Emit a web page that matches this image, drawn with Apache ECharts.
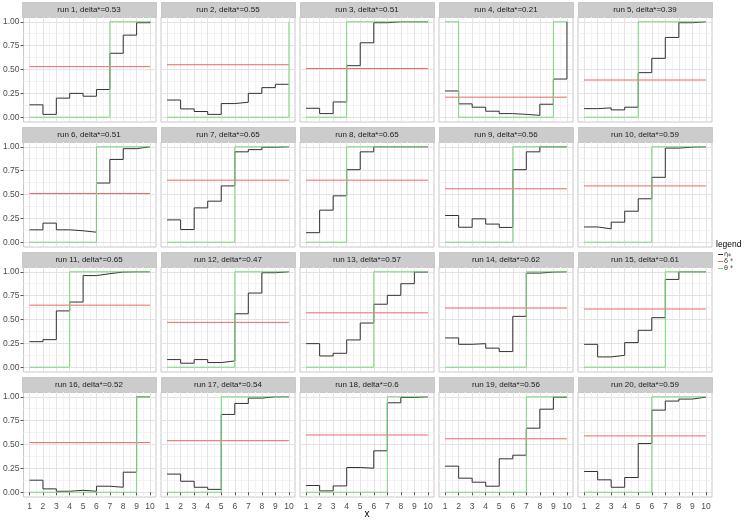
<!DOCTYPE html>
<html><head><meta charset="utf-8">
<script src="https://cdn.jsdelivr.net/npm/echarts@6/dist/echarts.min.js"></script>
<style>html,body{margin:0;padding:0;background:#fff}#c{width:750px;height:521px}</style>
</head><body><div id="c"></div>
<script>
// ---------------- data ----------------
const xValues = [1, 2, 3, 4, 5, 6, 7, 8, 9, 10];
const xTickLabels = ['1', '2', '3', '4', '5', '6', '7', '8', '9', '10'];
const yTickValues = [0, 0.25, 0.5, 0.75, 1];
const yTickLabels = ['0.00', '0.25', '0.50', '0.75', '1.00'];
const xMinorValues = [1.5, 2.5, 3.5, 4.5, 5.5, 6.5, 7.5, 8.5, 9.5];
const yMinorValues = [0.125, 0.375, 0.625, 0.875];
const runIds = [1, 2, 3, 4, 5, 6, 7, 8, 9, 10, 11, 12, 13, 14, 15, 16, 17, 18, 19, 20];
const deltaStar = [0.53, 0.55, 0.51, 0.21, 0.39, 0.51, 0.65, 0.65, 0.56, 0.59,
                   0.65, 0.47, 0.57, 0.62, 0.61, 0.52, 0.54, 0.6, 0.56, 0.59];
const eta = [
  [0.13, 0.03, 0.20, 0.25, 0.22, 0.29, 0.67, 0.86, 0.99, 1.00],
  [0.18, 0.087, 0.06, 0.03, 0.143, 0.157, 0.25, 0.31, 0.345, 0.35],
  [0.094, 0.038, 0.16, 0.54, 0.78, 0.99, 1.00, 1.00, 1.00, 1.00],
  [0.275, 0.14, 0.105, 0.063, 0.038, 0.03, 0.02, 0.136, 0.40, 1.00],
  [0.09, 0.098, 0.077, 0.105, 0.467, 0.617, 0.836, 0.99, 1.00, 1.00],
  [0.13, 0.20, 0.13, 0.12, 0.105, 0.62, 0.867, 0.98, 1.00, 1.00],
  [0.234, 0.133, 0.36, 0.43, 0.59, 0.947, 0.97, 0.995, 1.00, 1.00],
  [0.10, 0.336, 0.486, 0.76, 0.947, 1.00, 1.00, 1.00, 1.00, 1.00],
  [0.28, 0.157, 0.245, 0.19, 0.155, 0.76, 0.947, 1.00, 1.00, 1.00],
  [0.16, 0.14, 0.21, 0.325, 0.455, 0.68, 0.986, 0.996, 1.00, 1.00],
  [0.268, 0.289, 0.59, 0.683, 0.96, 0.98, 0.997, 1.00, 1.00, 1.00],
  [0.08, 0.042, 0.08, 0.049, 0.066, 0.56, 0.777, 0.99, 1.00, 1.00],
  [0.247, 0.118, 0.146, 0.286, 0.463, 0.66, 0.753, 0.875, 0.997, 1.00],
  [0.307, 0.24, 0.247, 0.20, 0.164, 0.533, 0.986, 0.997, 1.00, 1.00],
  [0.24, 0.108, 0.125, 0.258, 0.387, 0.519, 0.92, 1.00, 1.00, 1.00],
  [0.126, 0.035, 0.01, 0.02, 0.01, 0.063, 0.052, 0.21, 1.00, 1.00],
  [0.19, 0.115, 0.052, 0.03, 0.815, 0.93, 0.986, 1.00, 1.00, 1.00],
  [0.07, 0.014, 0.066, 0.259, 0.252, 0.434, 0.937, 0.993, 1.00, 1.00],
  [0.273, 0.147, 0.105, 0.063, 0.35, 0.388, 0.671, 0.87, 0.996, 1.00],
  [0.217, 0.13, 0.052, 0.154, 0.51, 0.86, 0.955, 0.976, 0.996, 1.00]
];
const theta = [
  [0, 0, 0, 0, 0, 0, 1, 1, 1, 1],
  [0, 0, 0, 0, 0, 0, 0, 0, 0, 1],
  [0, 0, 0, 1, 1, 1, 1, 1, 1, 1],
  [1, 0, 0, 0, 0, 0, 0, 0, 1, 1],
  [0, 0, 0, 0, 1, 1, 1, 1, 1, 1],
  [0, 0, 0, 0, 0, 1, 1, 1, 1, 1],
  [0, 0, 0, 0, 0, 1, 1, 1, 1, 1],
  [0, 0, 0, 1, 1, 1, 1, 1, 1, 1],
  [0, 0, 0, 0, 0, 1, 1, 1, 1, 1],
  [0, 0, 0, 0, 0, 1, 1, 1, 1, 1],
  [0, 0, 0, 1, 1, 1, 1, 1, 1, 1],
  [0, 0, 0, 0, 0, 1, 1, 1, 1, 1],
  [0, 0, 0, 0, 0, 1, 1, 1, 1, 1],
  [0, 0, 0, 0, 0, 0, 1, 1, 1, 1],
  [0, 0, 0, 0, 0, 0, 1, 1, 1, 1],
  [0, 0, 0, 0, 0, 0, 0, 0, 1, 1],
  [0, 0, 0, 0, 1, 1, 1, 1, 1, 1],
  [0, 0, 0, 0, 0, 0, 1, 1, 1, 1],
  [0, 0, 0, 0, 0, 0, 1, 1, 1, 1],
  [0, 0, 0, 0, 0, 1, 1, 1, 1, 1]
];
const seriesNames = ['η⁎', 'δ *', 'θ *'];

// ---------------- layout / style ----------------
const FONT = 'Liberation Sans, Arial, Helvetica, sans-serif';
const COLS = 5;
const LEFT0 = 22, COL_STEP = 139, PANEL_W = 134;
const TOP0 = 2, ROW_STEP = 125, STRIP_H = 15, PANEL_H = 105;
const COLORS = { eta: '#333333', delta: '#EE6666', theta: '#7CD77C' };
const X_MIN = 0.55, X_MAX = 10.45, Y_MIN = -0.05, Y_MAX = 1.05;

const grids = [], xAxes = [], yAxes = [], series = [], graphics = [];
const nRuns = runIds.length;

for (let i = 0; i < nRuns; i++) {
  const col = i % COLS, row = Math.floor(i / COLS);
  const left = LEFT0 + col * COL_STEP;
  const stripTop = TOP0 + row * ROW_STEP;
  const top = stripTop + STRIP_H;
  const lastRow = row === Math.floor((nRuns - 1) / COLS);
  const firstCol = col === 0;

  grids.push({ left: left, top: top, width: PANEL_W, height: PANEL_H, show: true,
    backgroundColor: '#ffffff', borderColor: '#c8c8c8', borderWidth: 1, z: 0 });

  graphics.push({ type: 'rect', left: left, top: stripTop, silent: true,
    shape: { width: PANEL_W, height: STRIP_H },
    style: { fill: '#cccccc', stroke: '#c8c8c8', lineWidth: 1 } });
  graphics.push({ type: 'text', silent: true, x: left + PANEL_W / 2, y: stripTop + STRIP_H / 2 + 0.5,
    style: { text: 'run ' + runIds[i] + ', delta*=' + deltaStar[i], font: '8px ' + FONT,
      fill: '#1a1a1a', align: 'center', verticalAlign: 'middle' } });

  // major axes
  xAxes.push({ type: 'value', gridIndex: i, min: X_MIN, max: X_MAX, z: 1,
    axisLine: { show: false },
    axisTick: { show: lastRow, length: 3, lineStyle: { color: '#555' }, customValues: xValues },
    axisLabel: { show: lastRow, customValues: xValues, margin: 5, fontSize: 8.5, fontFamily: FONT, color: '#4d4d4d',
      formatter: v => xTickLabels[xValues.indexOf(v)] },
    splitLine: { show: true, lineStyle: { color: '#e3e3e3', width: 1 } } });
  yAxes.push({ type: 'value', gridIndex: i, min: Y_MIN, max: Y_MAX, z: 1,
    axisLine: { show: false },
    axisTick: { show: firstCol, length: 3, lineStyle: { color: '#555' }, customValues: yTickValues },
    axisLabel: { show: firstCol, customValues: yTickValues, margin: 4, fontSize: 8.5, fontFamily: FONT, color: '#4d4d4d',
      formatter: v => yTickLabels[yTickValues.indexOf(v)] },
    splitLine: { show: true, lineStyle: { color: '#e3e3e3', width: 1 } } });
}
for (let i = 0; i < nRuns; i++) {
  // minor grid axes
  xAxes.push({ type: 'value', gridIndex: i, min: X_MIN, max: X_MAX, z: 0,
    axisLine: { show: false }, axisLabel: { show: false },
    axisTick: { show: false, customValues: xMinorValues },
    splitLine: { show: true, lineStyle: { color: '#f3f3f3', width: 1 } } });
  yAxes.push({ type: 'value', gridIndex: i, min: Y_MIN, max: Y_MAX, z: 0, position: 'left',
    axisLine: { show: false }, axisLabel: { show: false },
    axisTick: { show: false, customValues: yMinorValues },
    splitLine: { show: true, lineStyle: { color: '#f3f3f3', width: 1 } } });
}

for (let i = 0; i < nRuns; i++) {
  const base = { type: 'line', xAxisIndex: i, yAxisIndex: i, symbol: 'none', showSymbol: false,
    silent: true, animation: false, emphasis: { disabled: true } };
  series.push(Object.assign({}, base, { name: seriesNames[0], step: 'end', z: 3,
    data: xValues.map((x, k) => [x, eta[i][k]]),
    lineStyle: { color: COLORS.eta, width: 1 }, itemStyle: { color: COLORS.eta } }));
  series.push(Object.assign({}, base, { name: seriesNames[1], z: 4,
    data: [[xValues[0], deltaStar[i]], [xValues[xValues.length - 1], deltaStar[i]]],
    lineStyle: { color: COLORS.delta, width: 1 }, itemStyle: { color: COLORS.delta } }));
  series.push(Object.assign({}, base, { name: seriesNames[2], step: 'end', z: 5,
    data: xValues.map((x, k) => [x, theta[i][k]]),
    lineStyle: { color: COLORS.theta, width: 1 }, itemStyle: { color: COLORS.theta } }));
}

// axis title and legend title
graphics.push({ type: 'text', silent: true, x: LEFT0 + (COLS * COL_STEP - (COL_STEP - PANEL_W)) / 2, y: 514,
  style: { text: 'x', font: '10px ' + FONT, fill: '#000', align: 'center', verticalAlign: 'middle' } });
graphics.push({ type: 'text', silent: true, x: 716, y: 245,
  style: { text: 'legend', font: '8.5px ' + FONT, fill: '#000', align: 'left', verticalAlign: 'middle' } });

const chart = echarts.init(document.getElementById('c'), null, { renderer: 'canvas' });
chart.setOption({
  animation: false,
  backgroundColor: '#ffffff',
  grid: grids,
  xAxis: xAxes,
  yAxis: yAxes,
  series: series,
  graphic: graphics,
  legend: {
    orient: 'vertical', left: 718, top: 251, itemGap: 0, itemWidth: 5, itemHeight: 1, icon: 'rect',
    selectedMode: false, padding: 0,
    textStyle: { fontSize: 6.5, lineHeight: 5.5, fontFamily: 'DejaVu Sans, sans-serif', color: '#333', padding: [0, 0, 0, -4] },
    data: seriesNames.map(n => ({ name: n }))
  }
});
</script>
</body></html>
